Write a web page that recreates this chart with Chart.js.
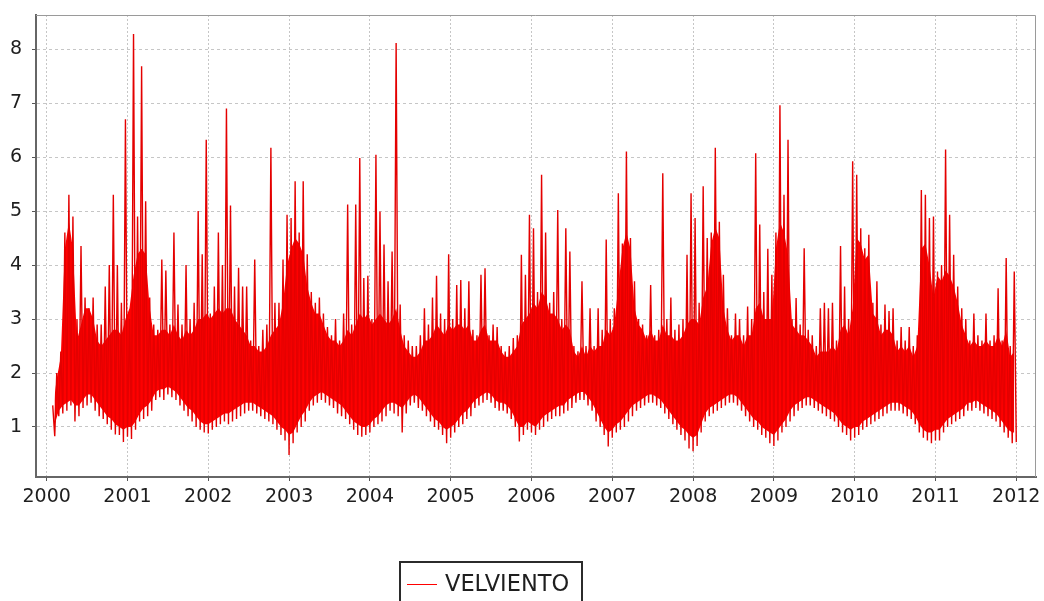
<!DOCTYPE html>
<html>
<head>
<meta charset="utf-8">
<style>
  html, body { margin: 0; padding: 0; background: #ffffff; overflow: hidden; }
  canvas { display: block; }
</style>
<script src="https://cdn.jsdelivr.net/npm/chart.js@4"></script>
</head>
<body>
<canvas id="grafico" width="1044" height="601"></canvas>
<script>
// Daily wind speed, reduced to one high / low pair per sampling step,
// plus the upper and lower edges of the dense core where the daily values pile up
const serie = 'VELVIENTO';
const inicio = 2000.075;   // time of the first sample, decimal year
const paso = 0.05;         // spacing between samples, years

const maximos = [
  // 2000
  1.4, 2.0, 2.4, 4.6, 5.3, 4.9, 3.0, 4.35, 3.4, 3.2, 3.4, 2.9, 2.9, 3.6, 4.0, 5.3, 4.0, 3.3, 6.7,
  // 2001
  3.0, 8.28, 4.9, 7.68, 5.18, 3.4, 2.9, 2.8, 4.1, 3.9, 2.9, 4.6, 3.27, 2.9, 4.0, 3.0, 3.3, 5.0, 4.2, 6.32,
  // 2002
  3.1, 3.6, 4.6, 4.0, 6.9, 5.1, 3.6, 3.95, 3.6, 3.6, 2.6, 4.1, 2.5, 2.8, 2.9, 6.17, 3.3, 3.3, 4.1, 4.93,
  // 2003
  4.87, 5.55, 4.6, 5.55, 4.2, 3.5, 3.3, 3.4, 3.1, 2.85, 2.7, 3.0, 2.6, 3.1, 5.12, 2.9, 5.12, 5.98, 3.76, 3.8,
  // 2004
  3.0, 6.04, 4.99, 4.38, 3.7, 4.25, 8.11, 3.27, 2.7, 2.6, 2.5, 2.5, 2.7, 3.2, 2.9, 3.4, 3.8, 3.1, 3.0, 4.2,
  // 2005
  3.0, 3.63, 3.72, 3.2, 3.7, 2.8, 2.7, 3.82, 3.94, 2.7, 2.9, 2.85, 2.5, 2.4, 2.5, 2.65, 2.7, 4.19, 3.82, 4.93,
  // 2006
  4.68, 3.5, 5.67, 4.6, 3.3, 3.5, 5.02, 3.0, 4.68, 4.25, 2.5, 2.4, 3.7, 2.5, 3.2, 2.5, 3.2, 2.8, 4.47, 3.0,
  // 2007
  3.2, 5.33, 4.4, 6.1, 4.5, 3.7, 3.0, 2.9, 2.7, 3.63, 2.7, 2.8, 5.7, 3.0, 3.4, 2.8, 2.9, 3.0, 4.19, 5.33,
  // 2008
  4.87, 3.3, 5.46, 4.5, 4.6, 6.17, 4.8, 3.82, 3.2, 2.7, 3.1, 3.0, 2.7, 3.23, 3.0, 6.07, 4.75, 3.5, 4.3, 3.82,
  // 2009
  4.6, 6.96, 5.3, 6.32, 3.0, 3.39, 2.9, 4.31, 2.8, 2.7, 2.5, 3.2, 3.3, 3.2, 3.3, 2.6, 4.35, 3.6, 3.0, 5.92,
  // 2010
  5.67, 4.68, 4.31, 4.56, 3.3, 3.7, 2.9, 3.27, 3.15, 3.2, 2.6, 2.85, 2.6, 2.85, 2.5, 2.7, 5.39, 5.3, 4.87, 4.9,
  // 2011
  3.88, 4.0, 6.14, 4.93, 4.19, 3.6, 3.2, 3.0, 2.6, 3.1, 2.7, 2.6, 3.1, 2.6, 2.7, 3.57, 2.6, 4.13, 2.5, 3.88
];

const minimos = [
  // 2000
  0.83, 1.2, 1.25, 1.3, 1.4, 1.1, 1.2, 1.35, 1.4, 1.45, 1.3, 1.2, 1.15, 1.05, 0.95, 0.86, 0.85, 0.72, 0.82,
  // 2001
  0.78, 0.95, 1.1, 1.15, 1.2, 1.3, 1.5, 1.55, 1.5, 1.6, 1.55, 1.5, 1.4, 1.3, 1.2, 1.1, 1.0, 0.95, 0.9, 0.88,
  // 2002
  0.95, 1.0, 1.05, 1.1, 1.05, 1.1, 1.15, 1.2, 1.25, 1.3, 1.3, 1.25, 1.2, 1.15, 1.1, 1.05, 0.95, 0.85, 0.75, 0.48,
  // 2003
  0.7, 0.9, 1.0, 1.1, 1.3, 1.4, 1.45, 1.5, 1.45, 1.4, 1.35, 1.25, 1.2, 1.15, 1.05, 0.95, 0.85, 0.82, 0.85, 0.9,
  // 2004
  1.0, 1.05, 1.1, 1.2, 1.3, 1.25, 1.2, 0.9, 1.25, 1.4, 1.45, 1.35, 1.3, 1.2, 1.1, 1.0, 0.95, 0.85, 0.7, 0.8,
  // 2005
  0.9, 1.0, 1.05, 1.15, 1.2, 1.35, 1.4, 1.45, 1.5, 1.45, 1.35, 1.3, 1.3, 1.25, 1.15, 1.0, 0.73, 0.85, 0.95, 0.9,
  // 2006
  0.85, 0.95, 1.0, 1.1, 1.15, 1.2, 1.2, 1.25, 1.3, 1.35, 1.45, 1.5, 1.5, 1.4, 1.3, 1.1, 1.0, 0.85, 0.64, 0.8,
  // 2007
  0.9, 0.95, 1.0, 1.1, 1.2, 1.3, 1.35, 1.4, 1.45, 1.45, 1.4, 1.35, 1.25, 1.15, 1.05, 0.95, 0.85, 0.75, 0.6, 0.55,
  // 2008
  0.65, 0.9, 1.1, 1.2, 1.25, 1.3, 1.35, 1.4, 1.45, 1.45, 1.4, 1.3, 1.2, 1.1, 1.0, 0.95, 0.85, 0.8, 0.7, 0.65,
  // 2009
  0.75, 0.9, 1.0, 1.1, 1.2, 1.3, 1.35, 1.4, 1.4, 1.35, 1.3, 1.25, 1.2, 1.15, 1.1, 1.0, 0.9, 0.85, 0.75, 0.8,
  // 2010
  0.85, 0.95, 1.0, 1.05, 1.1, 1.15, 1.2, 1.25, 1.3, 1.3, 1.3, 1.25, 1.2, 1.15, 1.05, 0.9, 0.8, 0.75, 0.7, 0.75,
  // 2011
  0.75, 0.9, 1.0, 1.05, 1.1, 1.15, 1.2, 1.3, 1.3, 1.35, 1.3, 1.25, 1.2, 1.15, 1.1, 1.0, 0.9, 0.8, 0.7, 0.72
];

// Upper edge of the dense core of daily values
const nucleo = [
  // 2000
  1.3, 1.9, 2.3, 4.3, 4.8, 4.3, 2.6, 2.9, 3.2, 3.2, 3.0, 2.6, 2.5, 2.6, 2.7, 2.8, 2.8, 2.7, 3.0,
  // 2001
  3.2, 3.8, 4.2, 4.3, 4.2, 3.2, 2.7, 2.7, 2.8, 2.8, 2.7, 2.9, 2.7, 2.6, 2.8, 2.7, 2.8, 3.0, 3.0, 3.1,
  // 2002
  3.0, 3.1, 3.2, 3.1, 3.2, 3.2, 3.0, 2.9, 2.8, 2.7, 2.5, 2.5, 2.4, 2.4, 2.5, 2.7, 2.8, 2.9, 3.3, 4.0,
  // 2003
  4.3, 4.5, 4.4, 4.2, 3.6, 3.3, 3.1, 3.1, 2.9, 2.7, 2.6, 2.6, 2.5, 2.6, 2.8, 2.7, 2.9, 3.1, 3.0, 3.1,
  // 2004
  2.9, 3.0, 3.1, 3.0, 2.9, 3.0, 3.2, 2.8, 2.5, 2.4, 2.3, 2.3, 2.4, 2.6, 2.6, 2.7, 2.9, 2.8, 2.7, 2.9,
  // 2005
  2.8, 2.9, 2.9, 2.8, 2.9, 2.6, 2.6, 2.8, 2.9, 2.6, 2.6, 2.6, 2.4, 2.3, 2.3, 2.4, 2.5, 2.9, 3.0, 3.1,
  // 2006
  3.3, 3.2, 3.5, 3.4, 3.1, 3.1, 3.0, 2.8, 2.9, 2.8, 2.4, 2.3, 2.5, 2.3, 2.5, 2.4, 2.5, 2.5, 2.8, 2.7,
  // 2007
  2.9, 3.6, 4.3, 4.6, 4.3, 3.2, 2.9, 2.8, 2.6, 2.8, 2.6, 2.6, 2.9, 2.7, 2.7, 2.6, 2.6, 2.7, 2.9, 3.0,
  // 2008
  3.0, 2.9, 3.4, 3.6, 4.4, 4.7, 4.5, 3.2, 2.8, 2.6, 2.7, 2.7, 2.5, 2.7, 2.7, 3.2, 3.3, 3.0, 3.0, 3.0,
  // 2009
  4.3, 4.8, 4.6, 4.2, 2.9, 2.8, 2.7, 2.7, 2.6, 2.5, 2.3, 2.4, 2.4, 2.4, 2.5, 2.4, 2.8, 2.9, 2.7, 3.2,
  // 2010
  4.5, 4.4, 4.1, 4.2, 3.1, 3.0, 2.7, 2.8, 2.8, 2.7, 2.4, 2.5, 2.4, 2.5, 2.3, 2.5, 4.3, 4.4, 4.0, 3.4,
  // 2011
  3.8, 3.7, 3.9, 3.8, 3.6, 3.3, 2.9, 2.7, 2.5, 2.6, 2.5, 2.5, 2.6, 2.5, 2.5, 2.7, 2.5, 2.8, 2.3, 2.4
];

// Lower edge of the dense core (the single low days reach down to "minimos")
const fondo = [
  // 2000
  1.05, 1.3, 1.4, 1.45, 1.5, 1.4, 1.4, 1.5, 1.6, 1.6, 1.5, 1.4, 1.3, 1.2, 1.15, 1.05, 1.0, 0.95, 1.0,
  // 2001
  1.0, 1.1, 1.25, 1.35, 1.4, 1.5, 1.65, 1.7, 1.7, 1.75, 1.7, 1.65, 1.55, 1.45, 1.35, 1.3, 1.2, 1.1, 1.05, 1.05,
  // 2002
  1.1, 1.15, 1.2, 1.25, 1.25, 1.3, 1.35, 1.4, 1.45, 1.45, 1.45, 1.4, 1.35, 1.3, 1.25, 1.2, 1.1, 1.0, 0.95, 0.85,
  // 2003
  0.9, 1.05, 1.2, 1.3, 1.45, 1.55, 1.6, 1.65, 1.6, 1.55, 1.5, 1.45, 1.4, 1.3, 1.2, 1.1, 1.05, 1.0, 1.0, 1.05,
  // 2004
  1.15, 1.2, 1.3, 1.4, 1.45, 1.45, 1.4, 1.35, 1.45, 1.55, 1.6, 1.55, 1.45, 1.35, 1.25, 1.15, 1.1, 1.0, 0.95, 1.0,
  // 2005
  1.05, 1.15, 1.25, 1.3, 1.4, 1.5, 1.55, 1.6, 1.65, 1.6, 1.5, 1.45, 1.45, 1.4, 1.3, 1.15, 1.0, 1.0, 1.1, 1.05,
  // 2006
  1.0, 1.1, 1.2, 1.25, 1.3, 1.35, 1.4, 1.4, 1.5, 1.55, 1.6, 1.65, 1.65, 1.55, 1.45, 1.3, 1.15, 1.0, 0.9, 0.95,
  // 2007
  1.05, 1.1, 1.2, 1.3, 1.4, 1.45, 1.5, 1.55, 1.6, 1.6, 1.55, 1.5, 1.4, 1.3, 1.2, 1.1, 1.0, 0.95, 0.85, 0.8,
  // 2008
  0.85, 1.05, 1.25, 1.35, 1.4, 1.45, 1.5, 1.55, 1.6, 1.6, 1.55, 1.45, 1.35, 1.25, 1.15, 1.1, 1.0, 0.95, 0.9, 0.85,
  // 2009
  0.95, 1.05, 1.15, 1.3, 1.4, 1.45, 1.5, 1.55, 1.55, 1.5, 1.45, 1.4, 1.35, 1.3, 1.25, 1.15, 1.05, 1.0, 0.95, 1.0,
  // 2010
  1.0, 1.1, 1.15, 1.2, 1.25, 1.3, 1.35, 1.4, 1.45, 1.45, 1.45, 1.4, 1.35, 1.3, 1.2, 1.05, 0.95, 0.9, 0.9, 0.95,
  // 2011
  0.95, 1.05, 1.15, 1.2, 1.25, 1.3, 1.35, 1.45, 1.45, 1.5, 1.45, 1.4, 1.35, 1.3, 1.25, 1.15, 1.05, 0.95, 0.9, 0.9
];

const anios = [2000, 2001, 2002, 2003, 2004, 2005, 2006, 2007, 2008, 2009, 2010, 2011, 2012];
const marcasY = [1, 2, 3, 4, 5, 6, 7, 8];

// Trace: each step contributes its high, then its low half a step later
const traza = [];
const techo = [];
const base = [];
for (let k = 0; k < maximos.length; k++) {
  const t = inicio + paso * k;
  traza.push({ x: t, y: maximos[k] });
  traza.push({ x: t + paso / 2, y: minimos[k] });
  techo.push({ x: t, y: nucleo[k] });
  base.push({ x: t + paso / 2, y: fondo[k] });
}

const rojo = 'rgb(255,0,0)';
const rojoTraza = 'rgb(228,0,0)';
const fuenteEjes = { family: 'DejaVu Sans', size: 19 };

// Plot frame plus a boxed legend under the chart
const marcoYLeyenda = {
  id: 'marcoYLeyenda',
  afterDraw(chart) {
    const { ctx, chartArea: a } = chart;
    ctx.save();
    ctx.strokeStyle = '#9a9a9a';
    ctx.lineWidth = 1;
    ctx.beginPath();
    ctx.moveTo(a.left, a.top + 0.5);
    ctx.lineTo(a.right - 0.5, a.top + 0.5);
    ctx.lineTo(a.right - 0.5, a.bottom);
    ctx.stroke();

    const ds = chart.data.datasets[0];
    ctx.strokeStyle = '#2b2b2b';
    ctx.lineWidth = 2;
    ctx.strokeRect(400, 562, 182, 60);
    ctx.strokeStyle = rojo;
    ctx.lineWidth = 1;
    ctx.beginPath();
    ctx.moveTo(407, 584.5);
    ctx.lineTo(437, 584.5);
    ctx.stroke();
    ctx.fillStyle = '#1e1e1e';
    ctx.font = '22.5px "DejaVu Sans"';
    ctx.textBaseline = 'alphabetic';
    ctx.fillText(ds.label, 445, 591);
    ctx.restore();
  }
};

const rejilla = {
  color: '#c6c6c6',
  lineWidth: 1,
  tickLength: 4,
  tickColor: '#555555',
  tickWidth: 1
};

new Chart(document.getElementById('grafico'), {
  type: 'line',
  data: {
    datasets: [
      {
        label: serie,
        data: traza,
        borderColor: rojoTraza,
        borderWidth: 1.4,
        pointRadius: 0,
        tension: 0,
        fill: false,
        order: 0
      },
      {
        label: 'nucleo',
        data: techo,
        borderWidth: 0,
        borderColor: rojo,
        backgroundColor: rojo,
        pointRadius: 0,
        tension: 0,
        fill: '+1',
        order: 1
      },
      {
        label: 'fondo',
        data: base,
        borderWidth: 0,
        borderColor: rojo,
        pointRadius: 0,
        tension: 0,
        fill: false,
        order: 2
      }
    ]
  },
  plugins: [marcoYLeyenda],
  options: {
    responsive: false,
    animation: false,
    devicePixelRatio: 1,
    parsing: false,
    layout: { padding: { top: 15, right: 8, left: 0, bottom: 0 } },
    plugins: {
      legend: { display: false },
      tooltip: { enabled: false },
      title: { display: false }
    },
    scales: {
      x: {
        type: 'linear',
        min: 1999.868,
        max: 2012.244,
        afterBuildTicks: s => { s.ticks = anios.map(v => ({ value: v })); },
        afterFit: s => { s.height = 124; s.paddingLeft = 0; s.paddingRight = 0; },
        ticks: {
          callback: v => String(v),
          font: fuenteEjes,
          color: '#1e1e1e',
          padding: 5,
          maxRotation: 0,
          autoSkip: false
        },
        grid: rejilla,
        border: { display: true, color: '#666666', width: 2, dash: [2, 2] }
      },
      y: {
        type: 'linear',
        min: 0.074,
        max: 8.63,
        afterBuildTicks: s => { s.ticks = marcasY.map(v => ({ value: v })); },
        afterFit: s => { s.width = 36; s.paddingTop = 0; s.paddingBottom = 0; },
        ticks: {
          font: fuenteEjes,
          color: '#1e1e1e',
          padding: 10
        },
        grid: rejilla,
        border: { display: true, color: '#666666', width: 2, dash: [3, 3] }
      }
    }
  }
});
</script>
</body>
</html>
